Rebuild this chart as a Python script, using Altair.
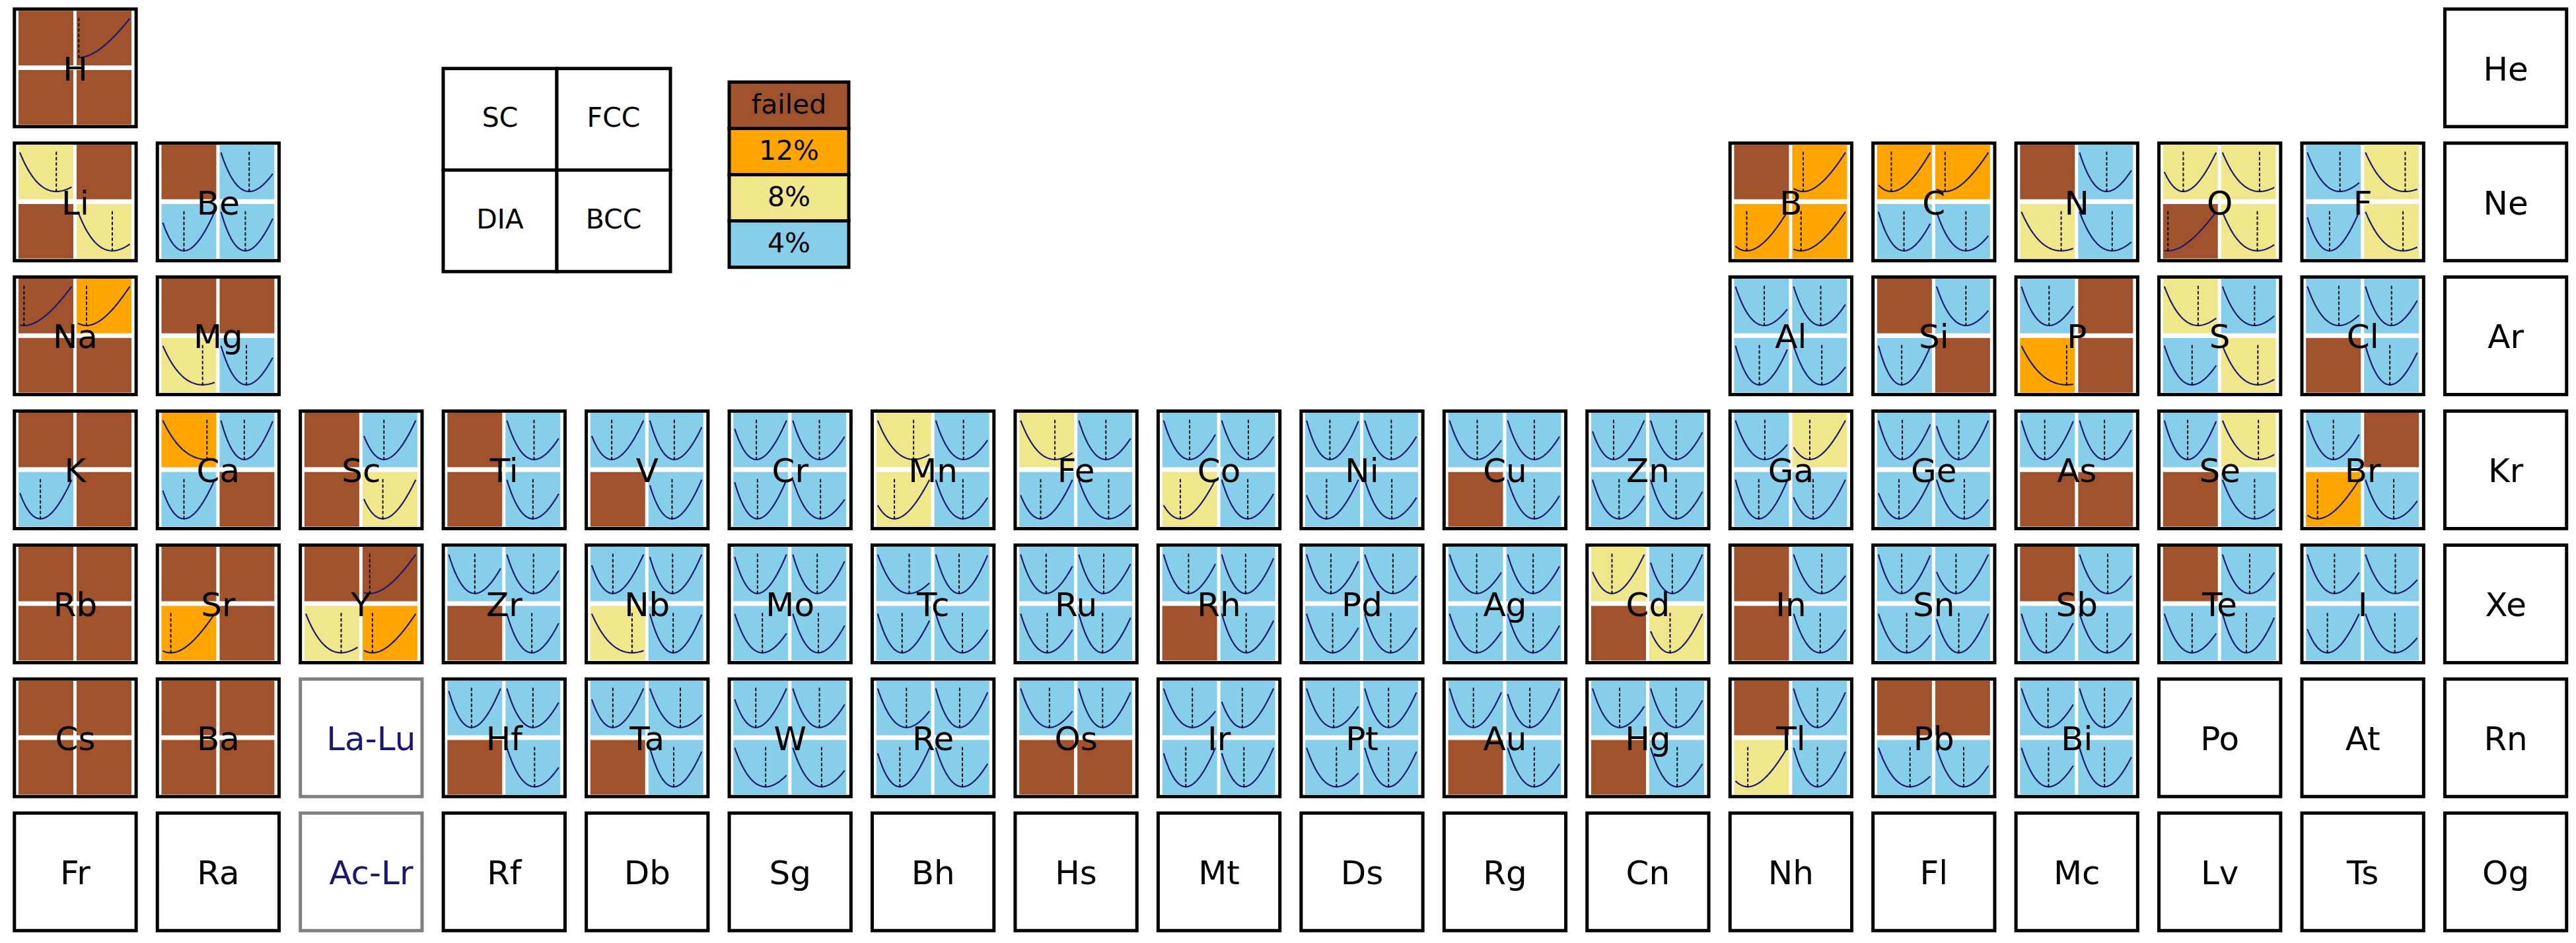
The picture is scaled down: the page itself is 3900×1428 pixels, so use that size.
import altair as alt
import numpy as np
import pandas as pd

# ---------------- layout of the periodic table (symbol, row, column) ----------------
SYMBOLS = (["H", "He", "Li", "Be", "B", "C", "N", "O", "F", "Ne",
            "Na", "Mg", "Al", "Si", "P", "S", "Cl", "Ar"]
           + ["K", "Ca", "Sc", "Ti", "V", "Cr", "Mn", "Fe", "Co", "Ni", "Cu", "Zn", "Ga", "Ge", "As", "Se", "Br", "Kr"]
           + ["Rb", "Sr", "Y", "Zr", "Nb", "Mo", "Tc", "Ru", "Rh", "Pd", "Ag", "Cd", "In", "Sn", "Sb", "Te", "I", "Xe"]
           + ["Cs", "Ba", "La-Lu", "Hf", "Ta", "W", "Re", "Os", "Ir", "Pt", "Au", "Hg", "Tl", "Pb", "Bi", "Po", "At", "Rn"]
           + ["Fr", "Ra", "Ac-Lr", "Rf", "Db", "Sg", "Bh", "Hs", "Mt", "Ds", "Rg", "Cn", "Nh", "Fl", "Mc", "Lv", "Ts", "Og"])
ROWS = [0, 0] + [1] * 8 + [2] * 8 + [3] * 18 + [4] * 18 + [5] * 18 + [6] * 18
COLS = ([0, 17] + [0, 1, 12, 13, 14, 15, 16, 17] + [0, 1, 12, 13, 14, 15, 16, 17]
        + list(range(18)) * 4)
GREY_BOXES = ["La-Lu", "Ac-Lr"]

# ---------------- computed elements: category per structure ----------------
CALC = ["H", "Li", "Be", "B", "C", "N", "O", "F", "Na", "Mg", "Al", "Si", "P", "S", "Cl",
        "K", "Ca", "Sc", "Ti", "V", "Cr", "Mn", "Fe", "Co", "Ni", "Cu", "Zn", "Ga", "Ge", "As", "Se", "Br",
        "Rb", "Sr", "Y", "Zr", "Nb", "Mo", "Tc", "Ru", "Rh", "Pd", "Ag", "Cd", "In", "Sn", "Sb", "Te", "I",
        "Cs", "Ba", "Hf", "Ta", "W", "Re", "Os", "Ir", "Pt", "Au", "Hg", "Tl", "Pb", "Bi"]

SC_CAT = ["f", "8", "f", "f", "12", "f", "8", "4", "f", "f", "4", "f", "4", "8", "4",
          "f", "12", "f", "f", "4", "4", "8", "8", "4", "4", "4", "4", "4", "4", "4", "4", "4",
          "f", "f", "f", "4", "4", "4", "4", "4", "4", "4", "4", "8", "f", "4", "f", "f", "4",
          "f", "f", "4", "4", "4", "4", "4", "4", "4", "4", "4", "f", "f", "4"]
FCC_CAT = ["f", "f", "4", "12", "12", "4", "8", "8", "12", "f", "4", "4", "f", "4", "4",
           "f", "4", "4", "4", "4", "4", "4", "4", "4", "4", "4", "4", "8", "4", "4", "8", "f",
           "f", "f", "f", "4", "4", "4", "4", "4", "4", "4", "4", "4", "4", "4", "4", "4", "4",
           "f", "f", "4", "4", "4", "4", "4", "4", "4", "4", "4", "4", "f", "4"]
DIA_CAT = ["f", "f", "4", "12", "4", "8", "f", "4", "f", "8", "4", "4", "12", "4", "f",
           "4", "4", "f", "f", "f", "4", "8", "4", "8", "4", "f", "4", "4", "4", "f", "f", "12",
           "f", "12", "8", "f", "8", "4", "4", "4", "f", "4", "4", "f", "f", "4", "4", "4", "4",
           "f", "f", "f", "f", "4", "4", "f", "4", "4", "f", "f", "8", "4", "4"]
BCC_CAT = ["f", "8", "4", "12", "4", "4", "8", "8", "f", "4", "4", "f", "f", "8", "4",
           "f", "f", "8", "4", "4", "4", "4", "4", "4", "4", "4", "4", "4", "4", "f", "4", "4",
           "f", "f", "12", "4", "4", "4", "4", "4", "4", "4", "4", "8", "4", "4", "4", "4", "4",
           "f", "f", "4", "4", "4", "4", "f", "4", "4", "4", "4", "4", "4", "4"]

# position of the energy minimum inside each panel (fraction of panel width); None = no curve
SC_MIN = [None, .69, None, None, .26, None, .37, .62, .10, None, .55, None, .53, .64, .60,
          None, .83, None, None, .39, .42, .68, .65, .50, .45, .53, .41, .56, .46, .45, .45, .50,
          None, None, None, .50, .41, .44, .60, .49, .48, .47, .52, .38, None, .45, None, None, .52,
          None, None, .44, .41, .41, .55, .55, .55, .52, .46, .52, None, None, .51]
FCC_MIN = [.04, None, .54, .20, .18, .52, .70, .75, .18, None, .52, .56, None, .61, .50,
           None, .45, .39, .52, .47, .51, .53, .52, .51, .51, .51, .49, .32, .43, .48, .68, None,
           None, None, .13, .51, .44, .47, .45, .48, .46, .54, .49, .42, .54, .38, .54, .52, .57,
           None, None, .50, .58, .51, .46, .46, .40, .46, .43, .49, .46, None, .48]
DIA_MIN = [None, None, .41, .23, .49, .75, .09, .43, None, .75, .46, .45, .85, .53, None,
           .40, .41, None, None, None, .44, .33, .39, .33, .39, None, .51, .45, .40, None, None, .21,
           None, .17, .67, None, .76, .53, .47, .51, None, .50, .52, None, None, .54, .48, .53, .39,
           None, None, None, None, .59, .43, None, .43, .57, None, None, .25, .60, .52]
BCC_MIN = [None, .65, .47, .16, .56, .62, .66, .71, None, .49, .54, None, None, .67, .47,
           None, None, .37, .50, .43, .53, .52, .57, .50, .52, .51, .49, .38, .53, None, .61, .54,
           None, None, .18, .48, .45, .49, .51, .46, .47, .50, .49, .38, .51, .43, .53, .46, .56,
           None, None, .53, .46, .55, .51, None, .43, .46, .51, .51, .46, .52, .48]

CAT_CODES = {"f": "failed", "12": "12%", "8": "8%", "4": "4%"}
LEGEND_CATS = ["failed", "12%", "8%", "4%"]
LEGEND_COLORS = ["#a0522d", "#ffa500", "#f0e68c", "#87ceeb"]
STRUCTURES = ["SC", "FCC", "DIA", "BCC"]

# ---------------- geometry (pixels) ----------------
X0, PX = 19.3, 216.45
Y0, PY = 11.3, 202.9
BW, BH = 189.3, 183.0
SW = 5.0
QW, QH = 83.0, 82.7
QX = {"SC": 8.7, "FCC": 96.7, "DIA": 8.7, "BCC": 96.7}
QY = {"SC": 4.9, "FCC": 4.9, "DIA": 94.7, "BCC": 94.7}
MORSE_A = 0.45

XS = alt.Scale(domain=[8, 3890], zero=False, nice=False)
YS = alt.Scale(domain=[8, 1418], zero=False, nice=False, reverse=True)


def X(f):
    return alt.X(f, type="quantitative", scale=XS, axis=None)


def Y(f):
    return alt.Y(f, type="quantitative", scale=YS, axis=None)


# element boxes
bx = pd.DataFrame({"sym": SYMBOLS, "row": ROWS, "col": COLS})
bx["left"] = X0 + PX * bx["col"]
bx["top"] = Y0 + PY * bx["row"]
bx["x"] = bx["left"] + SW / 2
bx["x2"] = bx["left"] + BW - SW / 2
bx["y"] = bx["top"] + SW / 2
bx["y2"] = bx["top"] + BH - SW / 2
grey = bx["sym"].isin(GREY_BOXES)
bx["stroke"] = np.where(grey, "#808080", "black")
bx["tcolor"] = np.where(grey, "#191970", "black")
bx["tx"] = bx["left"] + BW / 2 + np.where(grey, 15, 0)
bx["ty"] = bx["top"] + 110.3
pos = bx.set_index("sym")

quads, curves, dashes = [], [], []
cats = {"SC": SC_CAT, "FCC": FCC_CAT, "DIA": DIA_CAT, "BCC": BCC_CAT}
mins = {"SC": SC_MIN, "FCC": FCC_MIN, "DIA": DIA_MIN, "BCC": BCC_MIN}
u = np.linspace(0.025, 0.97, 60)
for i, s in enumerate(CALC):
    L, T = pos.loc[s, "left"], pos.loc[s, "top"]
    for st in STRUCTURES:
        qx, qy = L + QX[st], T + QY[st]
        qid = f"{s}-{st}"
        quads.append({"qid": qid, "cat": CAT_CODES[cats[st][i]],
                      "x": qx, "x2": qx + QW, "y": qy, "y2": qy + QH})
        m = mins[st][i]
        if m is None:
            continue
        e = (1 - np.exp(-MORSE_A * (u - m))) ** 2
        e = e / e.max()
        for k in range(len(u)):
            curves.append({"qid": qid, "i": k, "x": qx + QW * u[k],
                           "y": qy + QH * (0.857 - 0.714 * e[k])})
        dashes.append({"qid": qid, "x": qx + QW * m, "y": qy + 0.13 * QH, "y2": qy + 0.88 * QH})
quads = pd.DataFrame(quads)
curves = pd.DataFrame(curves)
dashes = pd.DataFrame(dashes)

box_layer = alt.Chart(bx).mark_rect(fill="white", strokeWidth=SW).encode(
    x=X("x"), x2="x2", y=Y("y"), y2="y2", stroke=alt.Stroke("stroke:N", scale=None))

quad_layer = alt.Chart(quads).mark_rect().encode(
    x=X("x"), x2="x2", y=Y("y"), y2="y2",
    fill=alt.Fill("cat:N", scale=alt.Scale(domain=LEGEND_CATS, range=LEGEND_COLORS), legend=None))

curve_layer = alt.Chart(curves).mark_line(color="#191970", strokeWidth=2.2).encode(
    x=X("x"), y=Y("y"), detail="qid:N", order="i:Q")

dash_layer = alt.Chart(dashes).mark_rule(color="black", strokeWidth=1.9, strokeDash=[5, 3]).encode(
    x=X("x"), y=Y("y"), y2="y2")

text_layer = alt.Chart(bx).mark_text(font="DejaVu Sans", fontSize=50, align="center",
                                     baseline="alphabetic").encode(
    x=X("tx"), y=Y("ty"), text="sym:N", color=alt.Color("tcolor:N", scale=None))

# structure legend (2x2 grid)
sl = pd.DataFrame({"label": STRUCTURES, "c": [0, 1, 0, 1], "r": [0, 0, 1, 1]})
sl["x"] = 671 + 172 * sl["c"]
sl["x2"] = sl["x"] + 172
sl["y"] = 103.7 + 153.8 * sl["r"]
sl["y2"] = sl["y"] + 153.8
sl["tx"] = (sl["x"] + sl["x2"]) / 2
sl["ty"] = sl["y"] + 88
struct_box = alt.Chart(sl).mark_rect(fill="white", stroke="black", strokeWidth=SW).encode(
    x=X("x"), x2="x2", y=Y("y"), y2="y2")
struct_text = alt.Chart(sl).mark_text(font="DejaVu Sans", fontSize=41, align="center",
                                      baseline="alphabetic", color="black").encode(
    x=X("tx"), y=Y("ty"), text="label:N")

# colour legend
cl = pd.DataFrame({"label": LEGEND_CATS, "r": [0, 1, 2, 3]})
cl["x"] = 1104.0
cl["x2"] = 1285.0
cl["y"] = 124.3 + 70.1 * cl["r"]
cl["y2"] = cl["y"] + 70.1
cl["tx"] = (cl["x"] + cl["x2"]) / 2
cl["ty"] = cl["y"] + 47.4
col_box = alt.Chart(cl).mark_rect(stroke="black", strokeWidth=SW).encode(
    x=X("x"), x2="x2", y=Y("y"), y2="y2",
    fill=alt.Fill("label:N", scale=alt.Scale(domain=LEGEND_CATS, range=LEGEND_COLORS), legend=None))
col_text = alt.Chart(cl).mark_text(font="DejaVu Sans", fontSize=41, align="center",
                                   baseline="alphabetic", color="black").encode(
    x=X("tx"), y=Y("ty"), text="label:N")

chart = alt.layer(box_layer, quad_layer, curve_layer, dash_layer, text_layer,
                  struct_box, struct_text, col_box, col_text).properties(
    width=3882, height=1410, padding=0,
    autosize=alt.AutoSizeParams(type="none")
).configure_view(stroke=None)

chart.save("out.html", embed_options={"renderer": "svg", "actions": False})
